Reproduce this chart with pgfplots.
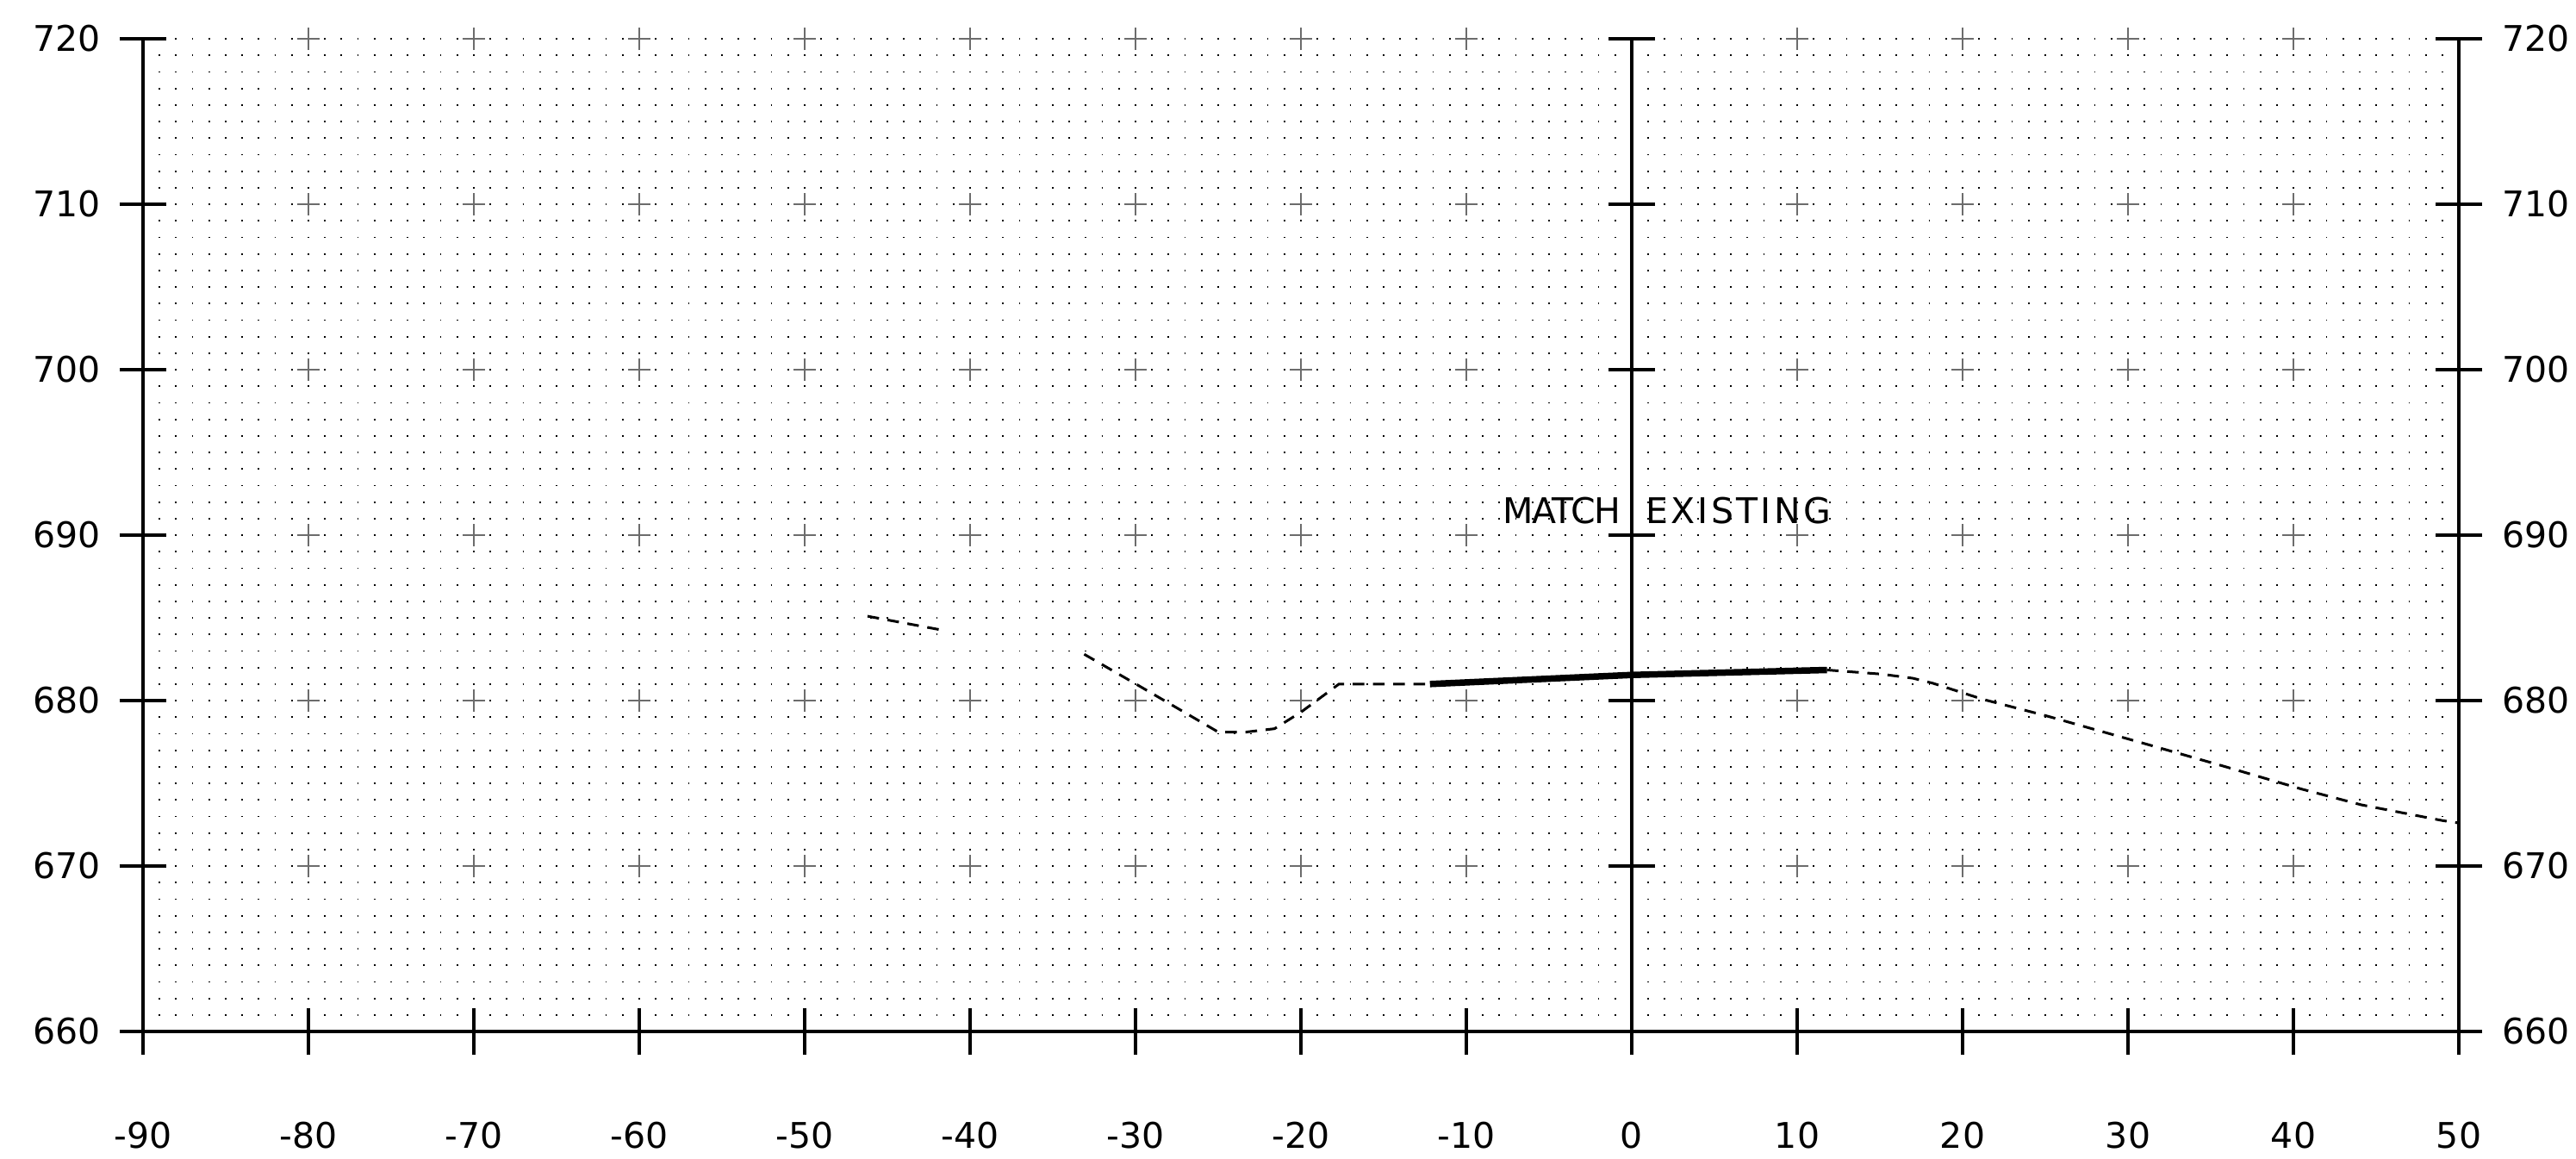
\documentclass[border=0pt]{standalone}
\usepackage{fontspec}
\setmainfont{DejaVu Sans}
\usepackage{pgfplots}
\pgfplotsset{compat=1.18}

\begin{document}
\begin{tikzpicture}
\pgfplotsset{
  profile/.style={
    scale only axis, width=537.6pt, height=230.4pt,
    xmin=-90, xmax=50, ymin=660, ymax=720,
    at={(0pt,0pt)}, anchor=south west,
    tick align=center, major tick length=10.8pt,
    tick style={black, line width=0.65pt},
    axis line style={black, line width=0.65pt},
    tick label style={font=\fontsize{8.2}{10}\selectfont},
    ytick={660,670,...,720},
    yticklabels={660,670,680,690,700,710,720},
    clip=false,
  },
  existing/.style={black, line width=0.6pt, dash pattern=on 2.7pt off 2pt},
}
\begin{axis}[profile,
  axis x line*=bottom, axis y line*=left,
  xtick={-90,-80,...,50},
  xticklabels={-90,-80,-70,-60,-50,-40,-30,-20,-10,0,10,20,30,40,50},
  xticklabel style={yshift=-12pt},
  yticklabel style={xshift=-1pt},
  xmajorgrids, ymajorgrids, yminorgrids,
  major grid style={gray!85!black, line width=0.3pt, dash pattern=on 5.2pt off 33.2pt, dash phase=2.6pt},
  minor ytick={660,661,...,720},
  minor tick length=0pt,
  minor grid style={black, line width=0.36pt, dash pattern=on 0.36pt off 3.48pt, dash phase=0.18pt},
]
% grid crosses on the top row (the grid lines stop at 720)
\addplot[only marks, mark=+, mark size=2.6pt, mark options={gray!85!black, line width=0.3pt}]
  coordinates {(-80,720) (-70,720) (-60,720) (-50,720) (-40,720) (-30,720) (-20,720)
               (-10,720) (10,720) (20,720) (30,720) (40,720)};

% centre line with its ticks
\addplot[black, line width=0.65pt] coordinates {(0,660) (0,720)};
\addplot[only marks, mark=-, mark size=5.4pt, mark options={line width=0.65pt}]
  coordinates {(0,670) (0,680) (0,690) (0,700) (0,710) (0,720)};

% existing ground (dashed)
\addplot[existing] coordinates {(-46.2,685.1) (-41.9,684.3)};
\addplot[existing] coordinates {
  (-33.1,682.8) (-29.8,680.9) (-25.0,678.1) (-23.3,678.1) (-21.6,678.3)
  (-20.0,679.3) (-17.7,681.0) (-12.2,681.0)};
\addplot[existing] coordinates {
  (11.8,681.85) (15.1,681.6) (17.0,681.35) (18.2,681.05) (21.25,680.07)
  (25.06,679.08) (31.0,677.4) (35.9,676.0) (40.5,674.65) (44.1,673.7)
  (49.0,672.75) (50,672.6)};

% proposed (solid, thick)
\addplot[black, line width=1.5pt] coordinates {(-12.2,681.0) (0,681.55) (11.8,681.85)};

\node[anchor=base east, inner sep=0pt, font=\fontsize{8.2}{10}\selectfont\addfontfeature{LetterSpace=-3}] at (axis cs:-0.6,690.7) {MATCH};
\node[anchor=base west, inner sep=0pt, font=\fontsize{8.2}{10}\selectfont\addfontfeature{LetterSpace=8}] at (axis cs:0.8,690.7) {EXISTING};
\end{axis}

\begin{axis}[profile,
  axis x line=none, axis y line*=right,
  xtick=\empty,
  yticklabel style={xshift=1.2pt},
]
\end{axis}

\pgfresetboundingbox
\useasboundingbox (-33.2pt,-29.4pt) rectangle (564.8pt,239.4pt);
\end{tikzpicture}
\end{document}
